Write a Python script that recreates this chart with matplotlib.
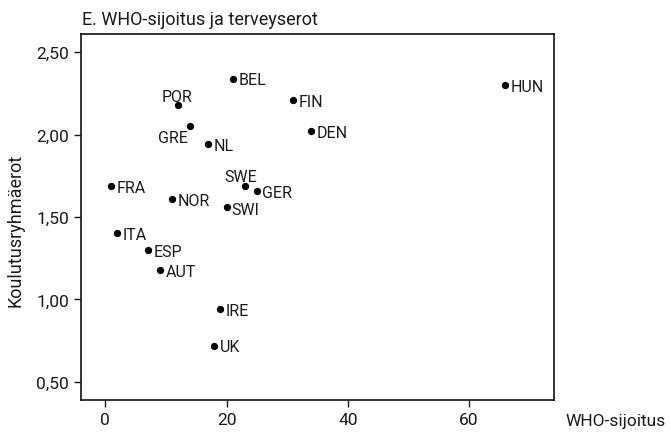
import matplotlib.pyplot as plt
from matplotlib.ticker import FuncFormatter

plt.rcParams['font.family'] = ['Roboto', 'DejaVu Sans']

countries = ['BEL', 'POR', 'GRE', 'NL', 'FIN', 'DEN', 'HUN', 'FRA', 'NOR',
             'SWE', 'GER', 'SWI', 'ITA', 'ESP', 'AUT', 'IRE', 'UK']
who_rank = [21, 12, 14, 17, 31, 34, 66, 1, 11, 23, 25, 20, 2, 7, 9, 19, 18]
edu_diff = [2.34, 2.18, 2.05, 1.94, 2.21, 2.02, 2.30, 1.69, 1.61,
            1.69, 1.66, 1.56, 1.40, 1.30, 1.18, 0.94, 0.72]

# label placement: (dx, dy in points, ha, va)
place = {
    'POR': (-1, 3, 'center', 'baseline'),
    'SWE': (-3, 3.5, 'center', 'baseline'),
    'GRE': (-1.5, -3, 'right', 'top'),
    'SWI': (3.5, -2, 'left', 'center'),
}

fig = plt.figure(figsize=(6.71, 4.35), dpi=100)
ax = fig.add_axes([0.1207, 0.0782, 0.7049, 0.8413])

ax.scatter(who_rank, edu_diff, s=18, color='black', zorder=3)
for name, x, y in zip(countries, who_rank, edu_diff):
    dx, dy, ha, va = place.get(name, (4, -1, 'left', 'center'))
    ax.annotate(name, (x, y), xytext=(dx, dy), textcoords='offset points',
                ha=ha, va=va, fontsize=11.5, color='#1a1a1a')

ax.set_xlim(-4, 74)
ax.set_ylim(0.39, 2.61)
ax.set_xticks([0, 20, 40, 60])
ax.set_yticks([0.5, 1.0, 1.5, 2.0, 2.5])
ax.yaxis.set_major_formatter(FuncFormatter(lambda v, p: f'{v:.2f}'.replace('.', ',')))
ax.tick_params(axis='both', labelsize=12.5, length=5, width=1, colors='#1a1a1a',
               labelcolor='#1a1a1a')
for s in ax.spines.values():
    s.set_linewidth(1.2)
    s.set_color('#111111')

ax.set_ylabel('Koulutusryhmäerot', fontsize=13, color='#1a1a1a')
ax.yaxis.set_label_coords(-0.12, 0.467)
fig.text(0.1222, 0.953, 'E. WHO-sijoitus ja terveyserot', fontsize=13,
         color='#1a1a1a', ha='left', va='center')
fig.text(0.843, 0.030, 'WHO-sijoitus', fontsize=12.5, color='#1a1a1a',
         ha='left', va='center')

fig.savefig('out.png', dpi=100)
